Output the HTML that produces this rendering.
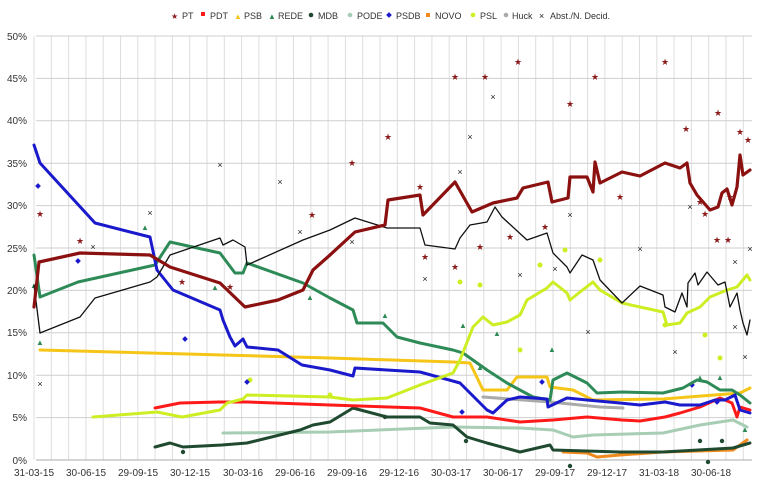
<!DOCTYPE html>
<html><head><meta charset="utf-8"><style>
html,body{margin:0;padding:0;background:#fff}
svg{display:block;font-family:"Liberation Sans",sans-serif}
</style></head><body>
<svg width="780" height="486" viewBox="0 0 780 486" xmlns="http://www.w3.org/2000/svg">
<rect width="780" height="486" fill="#fff"/>
<g id="vgrid" stroke="#dedede" stroke-width="1"></g>
<g stroke="#cfcfcf" stroke-width="1">
<line x1="36" y1="36" x2="752" y2="36"/><line x1="36" y1="78.4" x2="752" y2="78.4"/><line x1="36" y1="120.8" x2="752" y2="120.8"/><line x1="36" y1="163.2" x2="752" y2="163.2"/><line x1="36" y1="205.6" x2="752" y2="205.6"/><line x1="36" y1="248" x2="752" y2="248"/><line x1="36" y1="290.4" x2="752" y2="290.4"/><line x1="36" y1="332.8" x2="752" y2="332.8"/><line x1="36" y1="375.2" x2="752" y2="375.2"/><line x1="36" y1="417.6" x2="752" y2="417.6"/><line x1="36" y1="460" x2="752" y2="460" stroke="#aaa"/>
</g>
<g font-size="10" fill="#333" text-anchor="end">
<text x="27" y="40">50%</text><text x="27" y="82">45%</text><text x="27" y="124">40%</text><text x="27" y="167">35%</text><text x="27" y="209">30%</text><text x="27" y="252">25%</text><text x="27" y="294">20%</text><text x="27" y="336">15%</text><text x="27" y="379">10%</text><text x="27" y="421">5%</text><text x="27" y="464">0%</text>
</g>
<g font-size="10" fill="#333" text-anchor="middle">
<text x="34" y="476">31-03-15</text><text x="86" y="476">30-06-15</text><text x="138" y="476">29-09-15</text><text x="190" y="476">30-12-15</text><text x="243" y="476">30-03-16</text><text x="295" y="476">29-06-16</text><text x="347" y="476">29-09-16</text><text x="399" y="476">29-12-16</text><text x="451" y="476">30-03-17</text><text x="503" y="476">30-06-17</text><text x="555" y="476">29-09-17</text><text x="607" y="476">29-12-17</text><text x="659" y="476">31-03-18</text><text x="711" y="476">30-06-18</text>
</g>
<!-- scatter -->
<g font-size="9" fill="#8b1a1a" text-anchor="middle">
<text x="40" y="217">★</text><text x="80" y="244">★</text><text x="182" y="285">★</text><text x="230" y="290">★</text><text x="312" y="218">★</text><text x="352" y="166">★</text><text x="388" y="140">★</text><text x="455" y="80">★</text><text x="485" y="80">★</text><text x="518" y="65">★</text><text x="570" y="107">★</text><text x="595" y="80">★</text><text x="665" y="65">★</text><text x="686" y="132">★</text><text x="700" y="205">★</text><text x="705" y="217">★</text><text x="718" y="116">★</text><text x="730" y="200">★</text><text x="740" y="135">★</text><text x="748" y="143">★</text><text x="620" y="200">★</text><text x="545" y="230">★</text><text x="510" y="240">★</text><text x="455" y="270">★</text><text x="420" y="190">★</text><text x="425" y="260">★</text><text x="480" y="250">★</text><text x="717" y="243">★</text><text x="728" y="243">★</text>
</g>
<g font-size="9" fill="#222" text-anchor="middle">
<text x="40" y="387">×</text><text x="93" y="250">×</text><text x="150" y="216">×</text><text x="220" y="168">×</text><text x="280" y="185">×</text><text x="300" y="235">×</text><text x="352" y="245">×</text><text x="425" y="282">×</text><text x="470" y="140">×</text><text x="493" y="100">×</text><text x="460" y="175">×</text><text x="520" y="278">×</text><text x="555" y="272">×</text><text x="570" y="218">×</text><text x="588" y="335">×</text><text x="640" y="252">×</text><text x="675" y="355">×</text><text x="690" y="210">×</text><text x="735" y="330">×</text><text x="745" y="360">×</text><text x="750" y="252">×</text><text x="735" y="265">×</text>
</g>
<g fill="#2e8b57" font-size="8" text-anchor="middle">
<text x="34" y="288">▲</text><text x="40" y="345">▲</text><text x="145" y="230">▲</text><text x="215" y="290">▲</text><text x="310" y="300">▲</text><text x="385" y="318">▲</text><text x="480" y="370">▲</text><text x="700" y="380">▲</text><text x="720" y="380">▲</text><text x="745" y="432">▲</text><text x="463" y="328">▲</text><text x="497" y="336">▲</text><text x="552" y="352">▲</text>
</g>
<g fill="#ccee22">
<circle cx="480" cy="285" r="2.5"/><circle cx="540" cy="265" r="2.5"/><circle cx="565" cy="250" r="2.5"/><circle cx="600" cy="260" r="2.5"/><circle cx="665" cy="325" r="2.5"/><circle cx="705" cy="335" r="2.5"/><circle cx="720" cy="358" r="2.5"/><circle cx="250" cy="380" r="2.5"/><circle cx="330" cy="395" r="2.5"/><circle cx="460" cy="282" r="2.5"/><circle cx="520" cy="350" r="2.5"/>
</g>
<g fill="#1a1acc">
<rect x="36" y="184" width="4" height="4" transform="rotate(45 38 186)"/><rect x="76" y="259" width="4" height="4" transform="rotate(45 78 261)"/><rect x="183" y="337" width="4" height="4" transform="rotate(45 185 339)"/><rect x="245" y="380" width="4" height="4" transform="rotate(45 247 382)"/><rect x="460" y="410" width="4" height="4" transform="rotate(45 462 412)"/><rect x="540" y="380" width="4" height="4" transform="rotate(45 542 382)"/><rect x="690" y="383" width="4" height="4" transform="rotate(45 692 385)"/><rect x="715" y="400" width="4" height="4" transform="rotate(45 717 402)"/>
</g>
<g fill="#1f4a30">
<circle cx="183" cy="452" r="2.2"/><circle cx="385" cy="417" r="2.2"/><circle cx="466" cy="441" r="2.2"/><circle cx="570" cy="466" r="2.2"/><circle cx="700" cy="441" r="2.2"/><circle cx="722" cy="441" r="2.2"/><circle cx="708" cy="462" r="2.2"/>
</g>
<g fill="none" stroke-linejoin="round" stroke-linecap="round">
<polyline stroke="#aaaaaa" stroke-width="3" points="483,397 550,402 600,407 623,408"/>
<polyline stroke="#a7cdb4" stroke-width="3" points="223,433 330,432 453,427 520,428 553,430 573,437 593,435 663,433 700,425 733,420 747,427"/>
<polyline stroke="#f08a1c" stroke-width="3" points="563,452 587,453 597,457 620,455 663,452 733,450 747,440"/>
<polyline stroke="#1f4a30" stroke-width="3" points="155,447 170,443 183,447 222,445 247,443 300,430 313,425 330,422 353,408 387,417 420,417 430,423 453,425 467,437 487,443 520,452 550,445 553,450 620,452 663,452 733,448 750,443"/>
<polyline stroke="#ff1a1a" stroke-width="3" points="155,408 180,403 220,402 247,402 330,405 420,408 453,417 487,417 520,422 553,420 587,417 622,420 640,421 665,417 680,413 700,407 720,398 732,403 737,417 740,407 750,410"/>
<polyline stroke="#f5c518" stroke-width="3" points="40,350 330,358 453,362 470,363 483,390 507,390 517,377 547,377 550,387 573,390 593,400 663,399 740,393 750,388"/>
<polyline stroke="#2e8b57" stroke-width="3" points="34,255 40,297 78,282 155,265 170,242 220,253 235,273 243,273 247,263 303,283 330,298 353,310 357,323 383,323 397,337 420,343 453,350 463,353 487,370 507,383 533,397 550,400 553,380 567,373 587,383 597,393 622,392 663,393 683,388 697,380 707,382 720,390 732,390 740,395 750,403"/>
<polyline stroke="#1a1acc" stroke-width="3" points="34,145 40,163 95,223 150,237 157,270 173,290 220,310 223,320 230,337 235,346 243,339 247,347 278,350 302,365 330,370 353,376 355,368 387,370 420,372 460,383 487,410 493,413 507,400 520,397 547,399 548,407 567,398 587,400 620,403 640,405 665,402 680,405 700,405 715,400 725,400 735,395 740,410 750,413"/>
<polyline stroke="#ccee22" stroke-width="3" points="93,417 157,412 182,417 220,410 227,403 243,399 247,395 330,397 353,400 387,398 420,385 453,373 460,360 473,327 483,317 493,325 507,322 520,315 527,300 547,288 553,282 567,293 570,300 580,292 593,282 600,290 622,303 640,307 663,312 667,325 680,323 687,313 700,307 710,297 727,290 737,287 747,275 750,280"/>
<polyline stroke="#111" stroke-width="1.3" points="34,285 40,333 80,317 95,298 150,282 157,277 170,255 220,238 223,245 233,240 245,247 247,265 303,240 330,230 355,218 387,228 420,228 425,245 455,249 460,238 470,225 487,222 495,207 502,217 527,240 547,233 553,253 567,267 570,273 582,255 593,260 600,280 622,303 640,286 663,295 665,307 675,312 682,293 687,307 688,283 695,273 698,285 707,272 718,285 725,282 730,307 737,293 740,310 743,323 747,335 750,320"/>
<polyline stroke="#8b1010" stroke-width="3.2" points="34,307 39,262 80,253 150,255 170,267 220,283 245,307 278,300 303,290 313,270 330,255 355,232 385,225 388,200 420,195 423,215 455,182 472,212 493,203 517,198 523,188 548,182 552,202 568,198 570,177 587,177 593,192 595,162 600,183 622,172 640,176 665,163 680,168 687,163 690,183 697,195 710,210 718,207 722,193 727,189 732,205 737,187 740,155 743,175 750,170"/>
</g>
<!-- legend -->
<g font-size="9" fill="#333">
<text x="171" y="19" fill="#8b1a1a" font-size="8">★</text><text x="182" y="19">PT</text>
<rect x="201" y="12" width="4" height="4" fill="#ff1a1a"/><text x="210" y="19">PDT</text>
<text x="234" y="19" fill="#f5c518" font-size="8">▲</text><text x="244" y="19">PSB</text>
<text x="268" y="19" fill="#2e8b57" font-size="8">▲</text><text x="278" y="19">REDE</text>
<circle cx="311" cy="15" r="2.3" fill="#1f4a30"/><text x="318" y="19">MDB</text>
<circle cx="350" cy="15" r="2.3" fill="#a7cdb4"/><text x="357" y="19">PODE</text>
<rect x="387" y="13" width="4" height="4" fill="#1a1acc" transform="rotate(45 389 15)"/><text x="396" y="19">PSDB</text>
<rect x="426" y="13" width="4" height="4" fill="#f08a1c"/><text x="435" y="19">NOVO</text>
<circle cx="473" cy="15" r="2.3" fill="#ccee22"/><text x="480" y="19">PSL</text>
<circle cx="506" cy="15" r="2.3" fill="#aaa"/><text x="512" y="19">Huck</text>
<text x="539" y="19" fill="#222">×</text><text x="550" y="19">Abst./N. Decid.</text>
</g>
<script>
(function(){var g=document.getElementById('vgrid');for(var x=34;x<=752;x+=17.3){var l=document.createElementNS('http://www.w3.org/2000/svg','line');l.setAttribute('x1',x);l.setAttribute('x2',x);l.setAttribute('y1',36);l.setAttribute('y2',460);g.appendChild(l);}})();
</script>
</svg>
</body></html>
